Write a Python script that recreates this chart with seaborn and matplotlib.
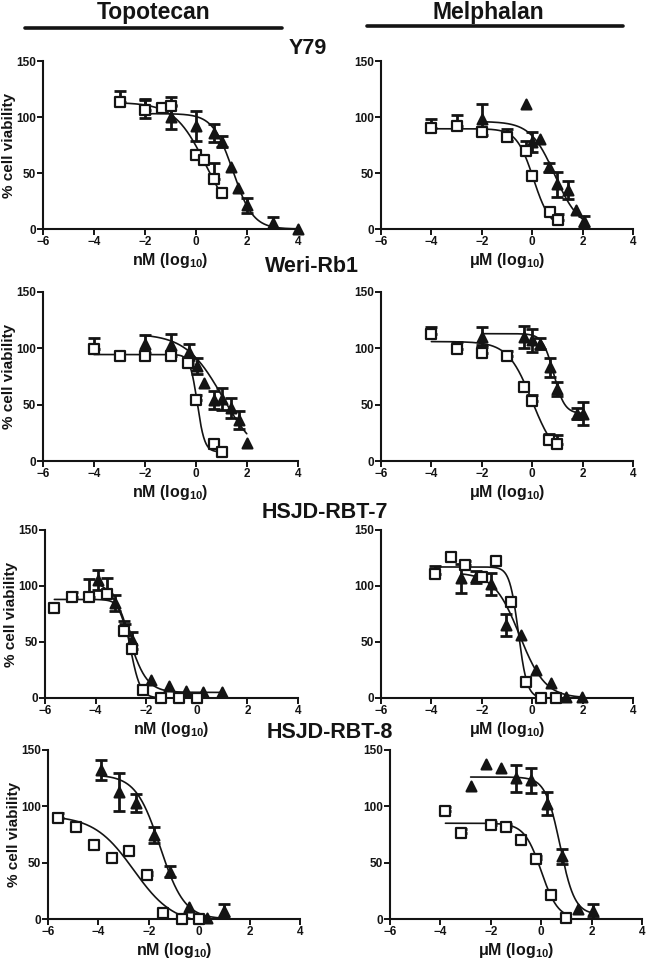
import numpy as np
import seaborn as sns
import matplotlib.pyplot as plt

# ---- data (x = log10 concentration, y = % cell viability) ----
# squares = open squares (error bar drawn upward only), triangles = filled triangles

# Y79 topotecan (nM)
y79_topo_sq_x = [-3, -2, -1.35, -1, 0, 0.32, 0.72, 1.0]
y79_topo_sq_y = [113, 106, 108, 110, 66, 62, 45, 32]
y79_topo_sq_err = [10, 10, 0, 8, 0, 0, 14, 0]
y79_topo_tr_x = [-2, -1, 0, 0.7, 1.0, 1.38, 1.65, 2.0, 3.0, 4.0]
y79_topo_tr_y = [107, 100, 92, 86, 78, 55, 37, 21, 5, 0]
y79_topo_tr_err = [8, 11, 13, 8, 5, 0, 0, 7, 6, 0]
y79_topo_sq_fit = [113, 0, 0.4, 0.7]     # top, bottom, logIC50, hill
y79_topo_tr_fit = [103, 0, 1.45, 1.1]

# Y79 melphalan (uM)
y79_mel_sq_x = [-4, -3, -2, -1, -0.26, 0, 0.7, 1.03]
y79_mel_sq_y = [90, 92, 87, 82, 70, 47, 15, 8]
y79_mel_sq_err = [8, 10, 0, 0, 9, 0, 0, 5]
y79_mel_tr_x = [-2, -1, -0.26, 0, 0.3, 0.68, 1.0, 1.43, 1.73, 2.05]
y79_mel_tr_y = [98, 84, 112, 78, 80, 55, 40, 35, 17, 7]
y79_mel_tr_err = [14, 5, 0, 9, 0, 4, 11, 8, 0, 5]
y79_mel_sq_fit = [89.5, 0, 0.05, 1.3]
y79_mel_tr_fit = [96, 0, 0.9, 0.9]

# Weri-Rb1 topotecan (nM)
weri_topo_sq_x = [-4, -3, -2, -1, -0.32, 0, 0.7, 1.0]
weri_topo_sq_y = [99, 93, 93, 93, 87, 54, 15, 8]
weri_topo_sq_err = [10, 0, 0, 0, 4, 5, 0, 0]
weri_topo_tr_x = [-2, -1, -0.29, 0.05, 0.3, 0.7, 1.0, 1.39, 1.68, 1.99]
weri_topo_tr_y = [104, 103, 97, 84, 69, 54, 55, 47, 36, 16]
weri_topo_tr_err = [8, 10, 7, 7, 0, 8, 10, 9, 8, 0]
weri_topo_sq_fit = [94.5, 8, 0.05, 3.0]
weri_topo_tr_fit = [113, 0, 1.05, 0.6]

# Weri-Rb1 melphalan (uM)
weri_mel_sq_x = [-4, -3, -2, -1, -0.32, 0, 0.66, 0.98]
weri_mel_sq_y = [113, 99, 96, 93, 66, 53, 19, 15]
weri_mel_sq_err = [6, 7, 7, 5, 0, 6, 5, 8]
weri_mel_tr_x = [-2, -0.33, 0, 0.3, 0.7, 1.0, 1.76, 2.0]
weri_mel_tr_y = [110, 110, 107, 104, 83, 64, 42, 42]
weri_mel_tr_err = [9, 10, 10, 5, 8, 6, 5, 10]
weri_mel_sq_fit = [106, 0, 0.0, 0.9]
weri_mel_tr_fit = [113, 42, 0.85, 2.0]

# HSJD-RBT-7 topotecan (nM)
rbt7_topo_sq_x = [-5.63, -4.92, -4.25, -3.56, -2.86, -2.55, -2.14, -1.4, -0.7, 0]
rbt7_topo_sq_y = [80, 90, 90, 93, 60, 44, 7, 0, 0, 0]
rbt7_topo_sq_err = [0, 5, 16, 14, 9, 15, 0, 0, 0, 0]
rbt7_topo_tr_x = [-3.91, -3.25, -2.85, -2.55, -1.83, -1.1, -0.44, 0.26, 1.0]
rbt7_topo_tr_y = [105, 85, 61, 52, 16, 11, 6, 5, 5]
rbt7_topo_tr_err = [9, 7, 5, 0, 0, 0, 0, 0, 0]
rbt7_topo_sq_fit = [88, 0, -2.62, 2.2]
rbt7_topo_tr_fit = [105, 5, -2.7, 1.2]

# HSJD-RBT-7 melphalan (uM)
rbt7_mel_sq_x = [-3.85, -3.24, -2.65, -2, -1.43, -0.85, -0.26, 0.36, 0.95]
rbt7_mel_sq_y = [111, 126, 119, 108, 122, 86, 14, 0, 0]
rbt7_mel_sq_err = [7, 0, 3, 0, 0, 0, 0, 0, 0]
rbt7_mel_tr_x = [-2.82, -2.24, -1.64, -1.05, -0.46, 0.16, 0.75, 1.34, 1.97]
rbt7_mel_tr_y = [107, 108, 102, 65, 56, 25, 13, 1, 1]
rbt7_mel_tr_err = [13, 5, 10, 10, 0, 0, 0, 0, 0]
rbt7_mel_sq_fit = [117, 0, -0.55, 2.5]
rbt7_mel_tr_fit = [112, 0, -0.5, 0.85]

# HSJD-RBT-8 topotecan (nM)
rbt8_topo_sq_x = [-5.6, -4.9, -4.18, -3.48, -2.78, -2.08, -1.42, -0.7, 0]
rbt8_topo_sq_y = [90, 82, 66, 54, 60, 39, 5.6, 0, 0]
rbt8_topo_sq_err = [4, 0, 0, 0, 0, 3, 0, 0, 0]
rbt8_topo_tr_x = [-3.9, -3.2, -2.5, -1.8, -1.14, -0.4, 0.3, 1.0]
rbt8_topo_tr_y = [132, 113, 103, 74.5, 42, 11, 1, 7.4]
rbt8_topo_tr_err = [9, 17, 8, 7, 5, 0, 0, 6]
rbt8_topo_sq_fit = [92, -5, -2.6, 0.55]
rbt8_topo_tr_fit = [128, 0, -1.55, 0.9]

# HSJD-RBT-8 melphalan (uM)
rbt8_mel_sq_x = [-3.8, -3.2, -2, -1.4, -0.8, -0.2, 0.4, 1.0]
rbt8_mel_sq_y = [96, 76, 83, 82, 70, 53.5, 21, 1]
rbt8_mel_sq_err = [3, 4, 3, 2, 0, 2, 0, 0]
rbt8_mel_tr_x = [-2.8, -2.2, -1.6, -1.0, -0.42, 0.22, 0.84, 1.45, 2.05]
rbt8_mel_tr_y = [118, 138, 134, 125, 123, 102.5, 55.5, 9, 7]
rbt8_mel_tr_err = [0, 0, 0, 12, 11, 10, 7, 0, 6]
rbt8_mel_sq_fit = [85, 0, 0.0, 1.3]
rbt8_mel_tr_fit = [126, 4, 0.75, 1.5]

row_titles = ["Y79", "Weri-Rb1", "HSJD-RBT-7", "HSJD-RBT-8"]
drug_titles = ["Topotecan", "Melphalan"]

sns.set_style("ticks")
plt.rcParams['font.family'] = ['Liberation Sans', 'DejaVu Sans']
plt.rcParams['font.weight'] = 'bold'
plt.rcParams['mathtext.fontset'] = 'custom'
plt.rcParams['mathtext.rm'] = 'Liberation Sans:bold'
plt.rcParams['mathtext.bf'] = 'Liberation Sans:bold'

INK = '#141414'
W, H = 648, 960


def hill(x, top, bottom, logic50, slope):
    return bottom + (top - bottom) / (1 + 10 ** (slope * (x - logic50)))


def make_ax(fig, l, t, r, b):
    ax = fig.add_axes([l / W, 1 - b / H, (r - l) / W, (b - t) / H])
    ax.px_width = r - l
    return ax


def draw_series(ax, x, y, err, fit, marker, face, up_only, size):
    x = np.array(x, float)
    y = np.array(y, float)
    err = np.array(err, float)
    xs = np.linspace(x.min(), x.max(), 300)
    sns.lineplot(x=xs, y=hill(xs, *fit), ax=ax, color=INK, lw=1.2, zorder=2)
    m = err > 0
    if m.any():
        lo = np.zeros(m.sum()) if up_only else err[m]
        ax.errorbar(x[m], y[m], yerr=[lo, err[m]], fmt='none', ecolor=INK,
                    elinewidth=2, capsize=4, capthick=2, zorder=3)
    sns.scatterplot(x=x, y=y, ax=ax, marker=marker, s=size, color=face,
                    edgecolor=INK, linewidth=1.6, zorder=4, clip_on=False)


def panel(ax, sq, tri, sq_fit, tri_fit, unit, ylabel):
    draw_series(ax, *tri, tri_fit, '^', INK, False, 50)
    draw_series(ax, *sq, sq_fit, 's', 'white', True, 48)
    ax.set_xlim(-6, 4)
    ax.set_ylim(0, 150)
    ax.set_xticks([-6, -4, -2, 0, 2, 4])
    ax.set_yticks([0, 50, 100, 150])
    ax.tick_params(labelsize=8.5, width=1.4, length=4, pad=1, colors=INK)
    for lab in ax.get_xticklabels() + ax.get_yticklabels():
        lab.set_fontweight('bold')
    for s in ['left', 'bottom']:
        ax.spines[s].set_linewidth(1.5)
        ax.spines[s].set_color(INK)
    sns.despine(ax=ax)
    ax.set_xlabel(unit + r' (log$_{\mathbf{10}}$)', fontsize=11.5,
                  fontweight='bold', labelpad=2, color=INK)
    if ylabel:
        ax.set_ylabel('% cell viability', fontsize=11, fontweight='bold', color=INK)
        # right edge of the rotated label sits ~27 px left of the y spine
        ax.yaxis.set_label_coords(-27 / ax.px_width, 0.5)
    else:
        ax.set_ylabel('')


fig = plt.figure(figsize=(W / 100, H / 100), dpi=100)

left_boxes = [(43, 61, 298, 229), (43, 292, 298, 461), (45, 530, 298, 698), (48, 750, 300, 919)]
right_boxes = [(381, 61, 633, 229), (381, 292, 633, 461), (381, 530, 633, 698), (390, 750, 642, 919)]

topo = [
    ((y79_topo_sq_x, y79_topo_sq_y, y79_topo_sq_err), (y79_topo_tr_x, y79_topo_tr_y, y79_topo_tr_err), y79_topo_sq_fit, y79_topo_tr_fit),
    ((weri_topo_sq_x, weri_topo_sq_y, weri_topo_sq_err), (weri_topo_tr_x, weri_topo_tr_y, weri_topo_tr_err), weri_topo_sq_fit, weri_topo_tr_fit),
    ((rbt7_topo_sq_x, rbt7_topo_sq_y, rbt7_topo_sq_err), (rbt7_topo_tr_x, rbt7_topo_tr_y, rbt7_topo_tr_err), rbt7_topo_sq_fit, rbt7_topo_tr_fit),
    ((rbt8_topo_sq_x, rbt8_topo_sq_y, rbt8_topo_sq_err), (rbt8_topo_tr_x, rbt8_topo_tr_y, rbt8_topo_tr_err), rbt8_topo_sq_fit, rbt8_topo_tr_fit),
]
mel = [
    ((y79_mel_sq_x, y79_mel_sq_y, y79_mel_sq_err), (y79_mel_tr_x, y79_mel_tr_y, y79_mel_tr_err), y79_mel_sq_fit, y79_mel_tr_fit),
    ((weri_mel_sq_x, weri_mel_sq_y, weri_mel_sq_err), (weri_mel_tr_x, weri_mel_tr_y, weri_mel_tr_err), weri_mel_sq_fit, weri_mel_tr_fit),
    ((rbt7_mel_sq_x, rbt7_mel_sq_y, rbt7_mel_sq_err), (rbt7_mel_tr_x, rbt7_mel_tr_y, rbt7_mel_tr_err), rbt7_mel_sq_fit, rbt7_mel_tr_fit),
    ((rbt8_mel_sq_x, rbt8_mel_sq_y, rbt8_mel_sq_err), (rbt8_mel_tr_x, rbt8_mel_tr_y, rbt8_mel_tr_err), rbt8_mel_sq_fit, rbt8_mel_tr_fit),
]

for i in range(4):
    axl = make_ax(fig, *left_boxes[i])
    panel(axl, *topo[i], 'nM', True)
    axr = make_ax(fig, *right_boxes[i])
    panel(axr, *mel[i], '\u03bcM', False)

# column headers with rule underneath
fig.text(154 / W, 1 - 13 / H, drug_titles[0], ha='center', va='center', fontsize=16.5, fontweight='bold', color=INK)
fig.text(488 / W, 1 - 13 / H, drug_titles[1], ha='center', va='center', fontsize=16.5, fontweight='bold', color=INK)
fig.add_artist(plt.Line2D([25 / W, 282 / W], [1 - 28 / H, 1 - 28 / H], color=INK, lw=2.6))
fig.add_artist(plt.Line2D([367 / W, 623 / W], [1 - 26 / H, 1 - 26 / H], color=INK, lw=2.6))

# cell line titles
title_pos = [(308, 49), (312, 267), (325, 513), (330, 733)]
for (tx, ty), name in zip(title_pos, row_titles):
    fig.text(tx / W, 1 - ty / H, name, ha='center', va='center', fontsize=15.5, fontweight='bold', color=INK)

fig.savefig('out.png', dpi=100)
